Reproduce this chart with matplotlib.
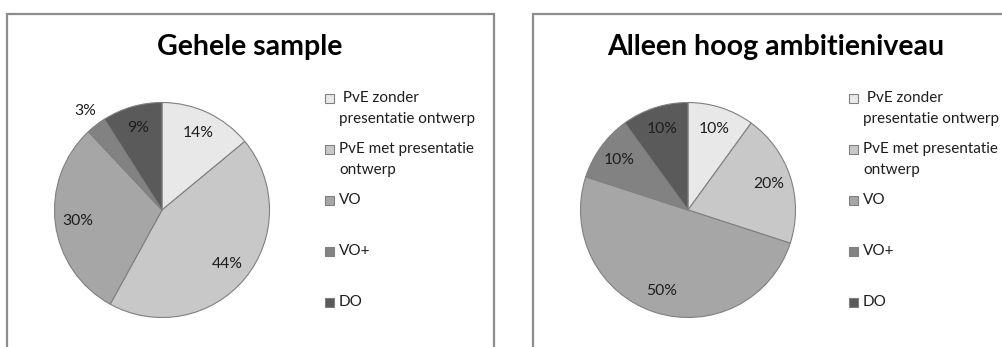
import matplotlib
matplotlib.use("Agg")
import matplotlib.pyplot as plt
from matplotlib.patches import Rectangle
import numpy as np

# ---- data ----
categories = [" PvE zonder\npresentatie ontwerp", "PvE met presentatie\nontwerp", "VO", "VO+", "DO"]
titles = ["Gehele sample", "Alleen hoog ambitieniveau"]
values_all = [14, 44, 30, 3, 9]
values_high = [10, 20, 50, 10, 10]
colors = ["#e8e8e8", "#c8c8c8", "#a6a6a6", "#828282", "#5a5a5a"]

W, H = 1003, 347
fig = plt.figure(figsize=(W / 100, H / 100), dpi=100)
plt.rcParams['font.family'] = ['Lato', 'DejaVu Sans']


def fx(px):
    return px / W


def fy(py):
    return (H - py) / H


def panel(dx, ldx, title, values):
    # border
    fig.patches.append(Rectangle((fx(7 + dx), fy(H + 5)), fx(487), fy(14) - fy(H + 5),
                                 transform=fig.transFigure, fill=False,
                                 edgecolor="#8c8c8c", linewidth=1.6))
    # title
    fig.text(fx(250 + dx), fy(47), title, ha="center", va="center",
             fontsize=20.5, fontweight="bold", color="black")
    # pie
    cx, cy, r = 162 + dx, 210, 107.5
    ax = fig.add_axes([fx(cx - r), fy(cy + r), fx(2 * r), fy(cy - r) - fy(cy + r)])
    wedges, texts, autotexts = ax.pie(values, colors=colors, startangle=90, counterclock=False,
                                      autopct="%d%%", pctdistance=0.79,
                                      wedgeprops=dict(edgecolor="#808080", linewidth=0.8),
                                      textprops=dict(fontsize=11.3, color="#1e1e1e"))
    for w, t, v in zip(wedges, autotexts, values):
        if v < 5:
            ang = np.deg2rad((w.theta1 + w.theta2) / 2)
            t.set_position((1.17 * np.cos(ang), 1.17 * np.sin(ang)))
    ax.set_xlim(-1, 1)
    ax.set_ylim(-1, 1)
    ax.set_aspect("equal")
    ax.axis("off")
    # legend (manual, evenly spaced like the original)
    for i, (lab, col) in enumerate(zip(categories, colors)):
        yc = 98 + 51 * i
        fig.patches.append(Rectangle((fx(325 + ldx), fy(yc + 4.5)), fx(9), fy(yc - 4.5) - fy(yc + 4.5),
                                     transform=fig.transFigure, facecolor=col,
                                     edgecolor="#808080", linewidth=0.8))
        fig.text(fx(339 + ldx), fy(yc - 7), lab, ha="left", va="top", fontsize=11.0,
                 color="#1e1e1e", linespacing=1.65)


panel(0, 0, titles[0], values_all)
panel(526, 524, titles[1], values_high)

fig.savefig("out.png", dpi=100, facecolor="white")
